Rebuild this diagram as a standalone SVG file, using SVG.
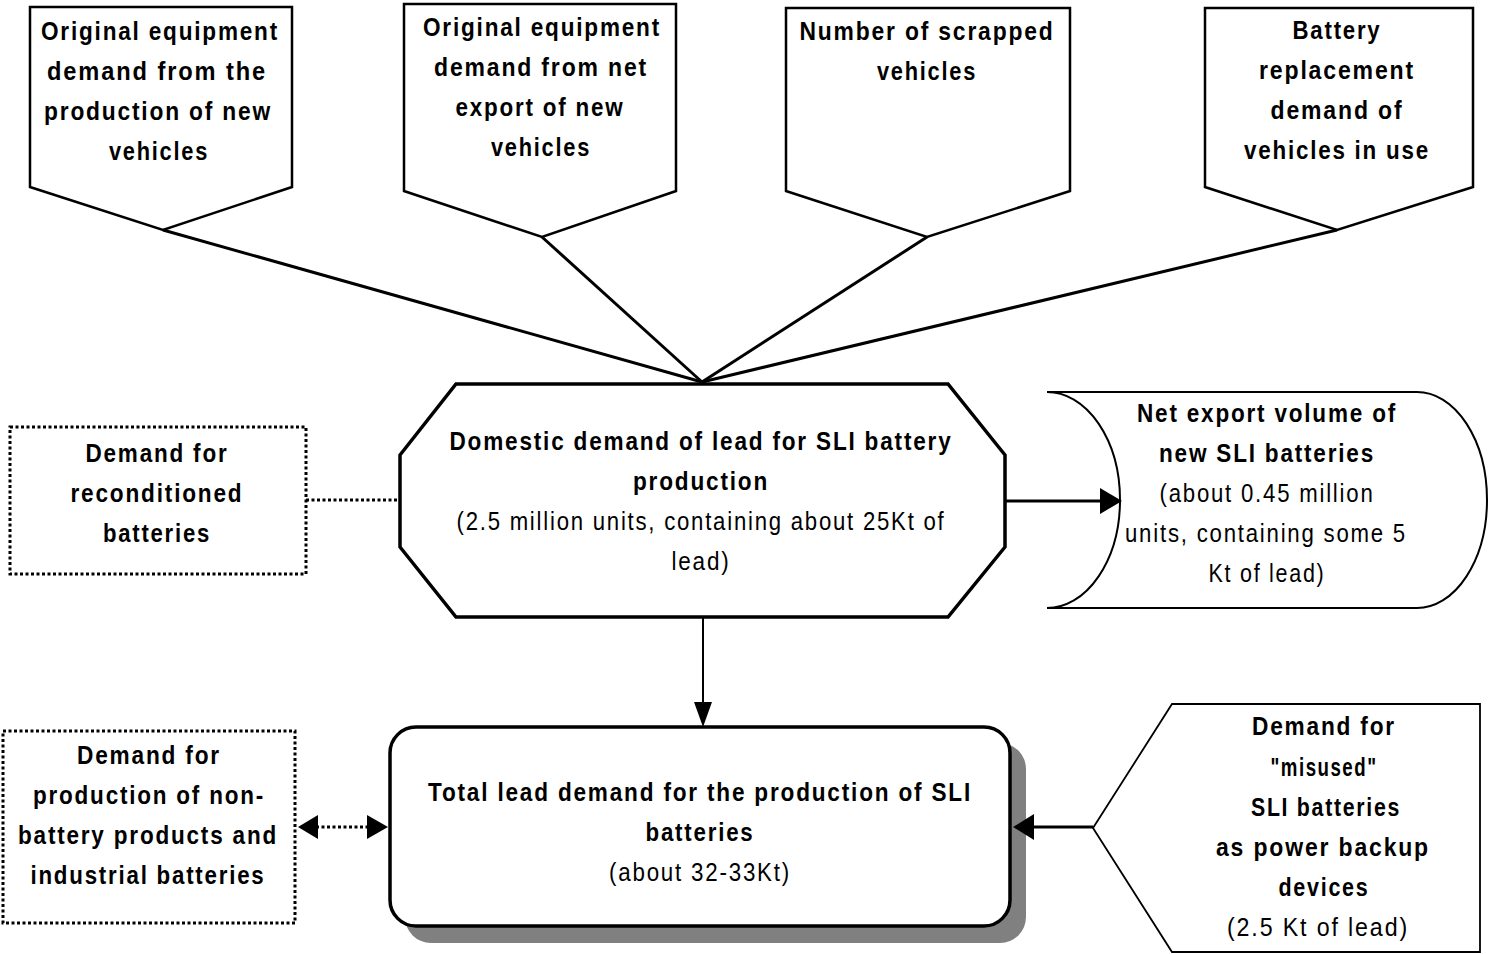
<svg xmlns="http://www.w3.org/2000/svg" width="1488" height="954" viewBox="0 0 1488 954">
<style>
text{font-family:"Liberation Sans",Arial,sans-serif;font-size:25px;fill:#000;text-anchor:middle;letter-spacing:2px}
.b{font-weight:bold}
.shape{fill:#fff;stroke:#000;stroke-width:2.5;stroke-linejoin:miter}
.thick{fill:#fff;stroke:#000;stroke-width:3.5}
.dot{fill:#fff;stroke:#000;stroke-width:3;stroke-dasharray:3 2.5}
.line{fill:none;stroke:#000;stroke-width:3}
.dline{fill:none;stroke:#000;stroke-width:3;stroke-dasharray:3 2.5}
.head{fill:#000;stroke:none}
</style>
<g id="p1">
<polygon class="shape" points="30,7 292,7 292,187 163,230 30,187"/>
<text class="b" x="160" y="40" textLength="238" lengthAdjust="spacingAndGlyphs">Original equipment</text>
<text class="b" x="157" y="80" textLength="220" lengthAdjust="spacingAndGlyphs">demand from the</text>
<text class="b" x="158" y="120" textLength="228" lengthAdjust="spacingAndGlyphs">production of new</text>
<text class="b" x="159" y="160" textLength="100" lengthAdjust="spacingAndGlyphs">vehicles</text>
</g>
<g id="p2">
<polygon class="shape" points="404,4 676,4 676,191 542,237 404,191"/>
<text class="b" x="542" y="36" textLength="238" lengthAdjust="spacingAndGlyphs">Original equipment</text>
<text class="b" x="541" y="76" textLength="214" lengthAdjust="spacingAndGlyphs">demand from net</text>
<text class="b" x="540" y="116" textLength="169" lengthAdjust="spacingAndGlyphs">export of new</text>
<text class="b" x="541" y="156" textLength="100" lengthAdjust="spacingAndGlyphs">vehicles</text>
</g>
<g id="p3">
<polygon class="shape" points="786,8 1070,8 1070,191 927,237 786,191"/>
<text class="b" x="927" y="40" textLength="255" lengthAdjust="spacingAndGlyphs">Number of scrapped</text>
<text class="b" x="927" y="80" textLength="100" lengthAdjust="spacingAndGlyphs">vehicles</text>
</g>
<g id="p4">
<polygon class="shape" points="1205,8 1473,8 1473,187 1337,230 1205,187"/>
<text class="b" x="1337" y="39" textLength="89" lengthAdjust="spacingAndGlyphs">Battery</text>
<text class="b" x="1337" y="79" textLength="156" lengthAdjust="spacingAndGlyphs">replacement</text>
<text class="b" x="1337" y="119" textLength="133" lengthAdjust="spacingAndGlyphs">demand of</text>
<text class="b" x="1337" y="159" textLength="186" lengthAdjust="spacingAndGlyphs">vehicles in use</text>
</g>
<g id="domestic">
<polygon class="thick" points="456,384 948,384 1005,455 1005,547 948,617 456,617 400,547 400,455"/>
<text class="b" x="701" y="450" textLength="503" lengthAdjust="spacingAndGlyphs">Domestic demand of lead for SLI battery</text>
<text class="b" x="701" y="490" textLength="136" lengthAdjust="spacingAndGlyphs">production</text>
<text x="701" y="530" textLength="489" lengthAdjust="spacingAndGlyphs">(2.5 million units, containing about 25Kt of</text>
<text x="701" y="570" textLength="59" lengthAdjust="spacingAndGlyphs">lead)</text>
</g>
<g id="netexport">
<path class="shape" style="stroke-width:2" d="M1047,392 L1417,392 A70,108 0 0 1 1417,608 L1047,608 A73,108 0 0 0 1047,392 Z"/>
<text class="b" x="1267" y="422" textLength="260" lengthAdjust="spacingAndGlyphs">Net export volume of</text>
<text class="b" x="1267" y="462" textLength="216" lengthAdjust="spacingAndGlyphs">new SLI batteries</text>
<text x="1267" y="502" textLength="215" lengthAdjust="spacingAndGlyphs">(about 0.45 million</text>
<text x="1266" y="542" textLength="282" lengthAdjust="spacingAndGlyphs">units, containing some 5</text>
<text x="1267" y="582" textLength="117" lengthAdjust="spacingAndGlyphs">Kt of lead)</text>
</g>
<g id="reconditioned">
<rect class="dot" x="10" y="427" width="296" height="147"/>
<text class="b" x="157" y="462" textLength="143" lengthAdjust="spacingAndGlyphs">Demand for</text>
<text class="b" x="157" y="502" textLength="173" lengthAdjust="spacingAndGlyphs">reconditioned</text>
<text class="b" x="157" y="542" textLength="108" lengthAdjust="spacingAndGlyphs">batteries</text>
</g>
<g id="nonbattery">
<rect class="dot" x="3" y="731" width="292" height="192"/>
<text class="b" x="149" y="764" textLength="144" lengthAdjust="spacingAndGlyphs">Demand for</text>
<text class="b" x="149" y="804" textLength="232" lengthAdjust="spacingAndGlyphs">production of non-</text>
<text class="b" x="148" y="844" textLength="260" lengthAdjust="spacingAndGlyphs">battery products and</text>
<text class="b" x="148" y="884" textLength="235" lengthAdjust="spacingAndGlyphs">industrial batteries</text>
</g>
<g id="total">
<rect x="405" y="743" width="621" height="200" rx="26" fill="#808080"/>
<rect class="thick" x="390" y="727" width="620" height="199" rx="26"/>
<text class="b" x="700" y="801" textLength="544" lengthAdjust="spacingAndGlyphs">Total lead demand for the production of SLI</text>
<text class="b" x="700" y="841" textLength="109" lengthAdjust="spacingAndGlyphs">batteries</text>
<text x="700" y="881" textLength="182" lengthAdjust="spacingAndGlyphs">(about 32-33Kt)</text>
</g>
<g id="misused">
<polygon class="shape" style="stroke-width:1.8" points="1093,828 1172,704 1480,704 1480,952 1172,952"/>
<text class="b" x="1324" y="735" textLength="144" lengthAdjust="spacingAndGlyphs">Demand for</text>
<text class="b" x="1324" y="776" textLength="107" lengthAdjust="spacingAndGlyphs">"misused"</text>
<text class="b" x="1326" y="816" textLength="150" lengthAdjust="spacingAndGlyphs">SLI batteries</text>
<text class="b" x="1323" y="856" textLength="214" lengthAdjust="spacingAndGlyphs">as power backup</text>
<text class="b" x="1324" y="896" textLength="91" lengthAdjust="spacingAndGlyphs">devices</text>
<text x="1318" y="936" textLength="182" lengthAdjust="spacingAndGlyphs">(2.5 Kt of lead)</text>
</g>
<g id="connectors">
<line class="line" x1="163" y1="230" x2="702" y2="382"/>
<line class="line" x1="542" y1="237" x2="702" y2="382"/>
<line class="line" x1="927" y1="237" x2="702" y2="382"/>
<line class="line" x1="1337" y1="230" x2="702" y2="382"/>
<line class="line" x1="1005" y1="501" x2="1102" y2="501"/>
<polygon class="head" points="1100,488 1122,501 1100,514"/>
<line class="line" x1="703" y1="617" x2="703" y2="704" style="stroke-width:2"/>
<polygon class="head" points="694,702 712,702 703,727"/>
<line class="dline" x1="306" y1="500" x2="400" y2="500"/>
<line class="dline" x1="316" y1="827" x2="370" y2="827"/>
<polygon class="head" points="298,827 318,815 318,839"/>
<polygon class="head" points="388,827 367,815 367,839"/>
<line class="line" x1="1093" y1="827" x2="1032" y2="827"/>
<polygon class="head" points="1013,827 1034,814 1034,840"/>
</g>
</svg>
